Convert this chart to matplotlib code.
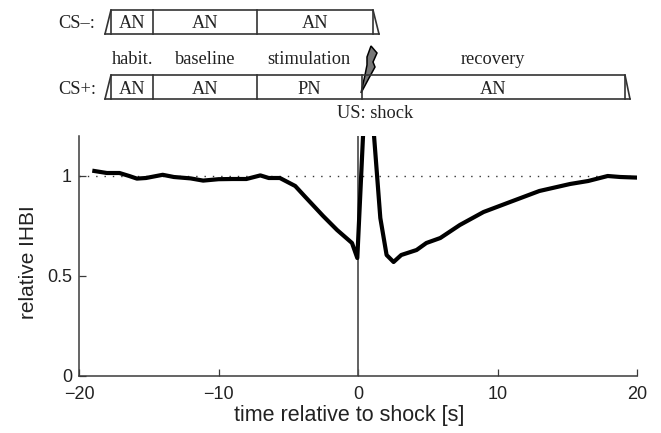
import matplotlib
matplotlib.use("Agg")
import matplotlib.pyplot as plt
from matplotlib.patches import Polygon

# curve
time_s = [-18.9, -18, -17.1, -16.4, -15.85, -15.2, -14, -13.2, -12, -11.1, -10, -9, -8, -7, -6.4, -5.6,
          -4.5, -3.8, -2.5, -1.5, -0.43, -0.05, 0.36, 0.7, 1.15, 1.6, 2.05, 2.55, 3.1, 4.2, 4.9, 5.9, 7.3,
          9, 10.9, 13, 15.2, 16.5, 17.9, 18.8, 20]
ihbi = [1.025, 1.015, 1.015, 1.0, 0.987, 0.99, 1.006, 0.995, 0.988, 0.977, 0.984, 0.985, 0.985, 1.003, 0.99, 0.99,
        0.95, 0.897, 0.80, 0.73, 0.665, 0.59, 1.2, 1.7, 1.2, 0.79, 0.605, 0.57, 0.605, 0.63, 0.665, 0.69, 0.755,
        0.82, 0.87, 0.925, 0.96, 0.975, 1.0, 0.995, 0.992]
x_ticks = [-20, -10, 0, 10, 20]
x_tick_labels = ["\u221220", "\u221210", "0", "10", "20"]
y_ticks = [0, 0.5, 1]
y_tick_labels = ["0", "0.5", "1"]

W, H = 661, 433
SPINE = "#3a3a3a"
plt.rcParams["font.family"] = ["Liberation Sans", "DejaVu Sans"]

fig = plt.figure(figsize=(W / 100, H / 100), dpi=100)
ax = fig.add_axes([79 / W, 1 - 376 / H, (637 - 79) / W, (376 - 136) / H])
ax.axhline(1, color="#333333", linewidth=1, linestyle=(0, (1, 5)))
ax.axvline(0, color="#555555", linewidth=1.3)
ax.plot(time_s, ihbi, color="black", linewidth=3, solid_joinstyle="round")
ax.set_xlim(-20, 20)
ax.set_ylim(0, 1.2)
ax.set_xticks(x_ticks, x_tick_labels, fontsize=13, color="#222222")
ax.set_yticks(y_ticks, y_tick_labels, fontsize=13, color="#222222")
ax.tick_params(direction="in", length=5, width=0.9, color=SPINE)
ax.tick_params(axis="x", pad=7)
ax.tick_params(axis="y", pad=5)
for side in ("top", "right"):
    ax.spines[side].set_visible(False)
for side in ("left", "bottom"):
    ax.spines[side].set_color(SPINE)
    ax.spines[side].set_linewidth(1.1)
fig.text(349 / W, 1 - 415 / H, "time relative to shock [s]", fontsize=15.5, ha="center", va="center", color="#222222")
fig.text(29 / W, 1 - 262 / H, "relative IHBI", fontsize=15, rotation=90, ha="center", va="center", color="#222222")

# protocol diagram on top, in pixel coordinates
top = fig.add_axes([0, 0, 1, 1], facecolor="none")
top.set_xlim(0, W)
top.set_ylim(H, 0)
top.axis("off")


def protocol_bar(y0, y1, edges, tail_left, tail_right):
    kw = dict(color="#333333", linewidth=1.2)
    top.plot([tail_left, edges[0], edges[-1], tail_right], [y1, y0, y0, y1], **kw)
    top.plot([tail_left, tail_right], [y1, y1], **kw)
    for e in edges:
        top.plot([e, e], [y0, y1], **kw)


protocol_bar(10, 34, [111, 153, 257, 373], 105, 379)
protocol_bar(75, 99, [111, 153, 257, 362, 625], 105, 630)


def serif(x, y, s):
    top.text(x, y, s, family="Liberation Serif", fontsize=13.2, ha="center", va="center", color="#222222")


for x, s in [(132, "AN"), (205, "AN"), (315, "AN")]:
    serif(x, 24, s)
for x, s in [(132, "AN"), (205, "AN"), (309, "PN"), (493, "AN")]:
    serif(x, 89, s)
for x, s in [(133, "habit."), (205, "baseline"), (309, "stimulation"), (493, "recovery")]:
    serif(x, 59, s)
serif(77, 24, "CS\u2013:")
serif(77, 89, "CS+:")
serif(375, 113, "US: shock")

bolt = [(371, 46), (377, 53), (373, 62), (375, 67), (369, 78), (361, 93), (365, 75), (367, 65), (367, 57)]
top.add_patch(Polygon(bolt, closed=True, facecolor="#777777", edgecolor="black", linewidth=1.1))

fig.savefig("out.png", dpi=100)
